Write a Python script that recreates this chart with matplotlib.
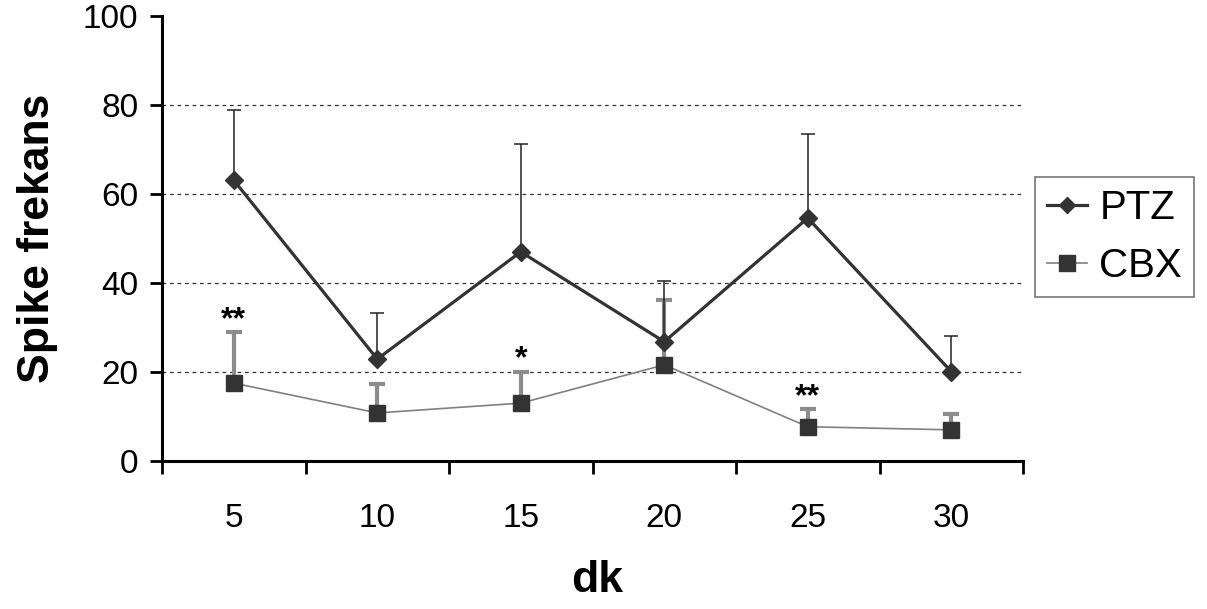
import matplotlib
matplotlib.use("Agg")
import matplotlib.pyplot as plt
import numpy as np
from matplotlib.lines import Line2D

plt.rcParams['font.family'] = ['Liberation Sans', 'DejaVu Sans']

days = ['5', '10', '15', '20', '25', '30']
ptz_mean = [63.1, 22.9, 47.0, 26.8, 54.6, 20.1]
ptz_top = [78.8, 33.2, 71.2, 40.4, 73.5, 28.2]
cbx_mean = [17.5, 10.8, 13.0, 21.6, 7.7, 7.0]
cbx_top = [28.9, 17.3, 20.0, 36.2, 11.6, 10.5]
signif = ['**', '', '*', '', '**', '']

ptz_err = np.array(ptz_top) - np.array(ptz_mean)
cbx_err = np.array(cbx_top) - np.array(cbx_mean)

fig = plt.figure(figsize=(12.07, 6.09), dpi=100)
ax = fig.add_axes([162/1207, 1-461/609, (1023-162)/1207, (461-16)/609])

x = np.arange(len(days))

# CBX
ax.errorbar(x, cbx_mean, yerr=[np.zeros(len(x)), cbx_err], fmt='none',
            ecolor='#8c8c8c', elinewidth=3.0, capsize=6, capthick=3.0, zorder=2)
ax.plot(x, cbx_mean, color='#808080', lw=1.2, zorder=3)
ax.plot(x, cbx_mean, ls='none', marker='s', ms=12, color='#333333', zorder=4)

# PTZ
ax.errorbar(x, ptz_mean, yerr=[np.zeros(len(x)), ptz_err], fmt='none',
            ecolor='#222222', elinewidth=1.1, capsize=5, capthick=1.1, zorder=2)
ax.plot(x, ptz_mean, color='#333333', lw=2.3, marker='D', ms=9, zorder=5)

for xi, top, s in zip(x, cbx_top, signif):
    if s:
        ax.annotate(s, (xi, top), xytext=(0, 9), textcoords='offset points',
                    ha='center', va='center', fontsize=23, fontweight='bold')

ax.set_xlim(-0.5, 5.5)
ax.set_ylim(0, 100)
ax.set_yticks([0, 20, 40, 60, 80, 100])
ax.tick_params(axis='y', direction='out', length=9, width=2, labelsize=24, pad=8)
ax.set_xticks(np.arange(-0.5, 6, 1))
ax.set_xticklabels([])
ax.tick_params(axis='x', which='major', direction='out', length=9, width=2)
ax.set_xticks(x, minor=True)
ax.set_xticklabels(days, minor=True)
ax.tick_params(axis='x', which='minor', length=0, labelsize=24, pad=30)

for v in [20, 40, 60, 80]:
    ax.axhline(v, color='#333333', lw=0.9, ls=(0, (3, 3)), zorder=1)

for sp in ['top', 'right']:
    ax.spines[sp].set_visible(False)
for sp in ['left', 'bottom']:
    ax.spines[sp].set_linewidth(2.2)

ax.set_ylabel('Spike frekans', fontsize=32, fontweight='bold', labelpad=18)
fig.text(597/1207, 1-581/609, 'dk', fontsize=32, fontweight='bold',
         ha='center', va='center')

h1 = Line2D([], [], color='#333333', lw=2.3, marker='D', ms=8)
h2 = Line2D([], [], color='#808080', lw=1.2, marker='s', ms=11, mfc='#333333', mec='#333333')
leg = fig.legend([h1, h2], ['PTZ', 'CBX'], loc='upper left',
                 bbox_to_anchor=(1035/1207, 1-177/609), fontsize=29,
                 frameon=True, fancybox=False, edgecolor='#555555',
                 handlelength=1.0, handletextpad=0.3, borderpad=0.3,
                 labelspacing=0.5, borderaxespad=0)
leg.get_frame().set_linewidth(1.2)

fig.savefig('out.png', dpi=100)
